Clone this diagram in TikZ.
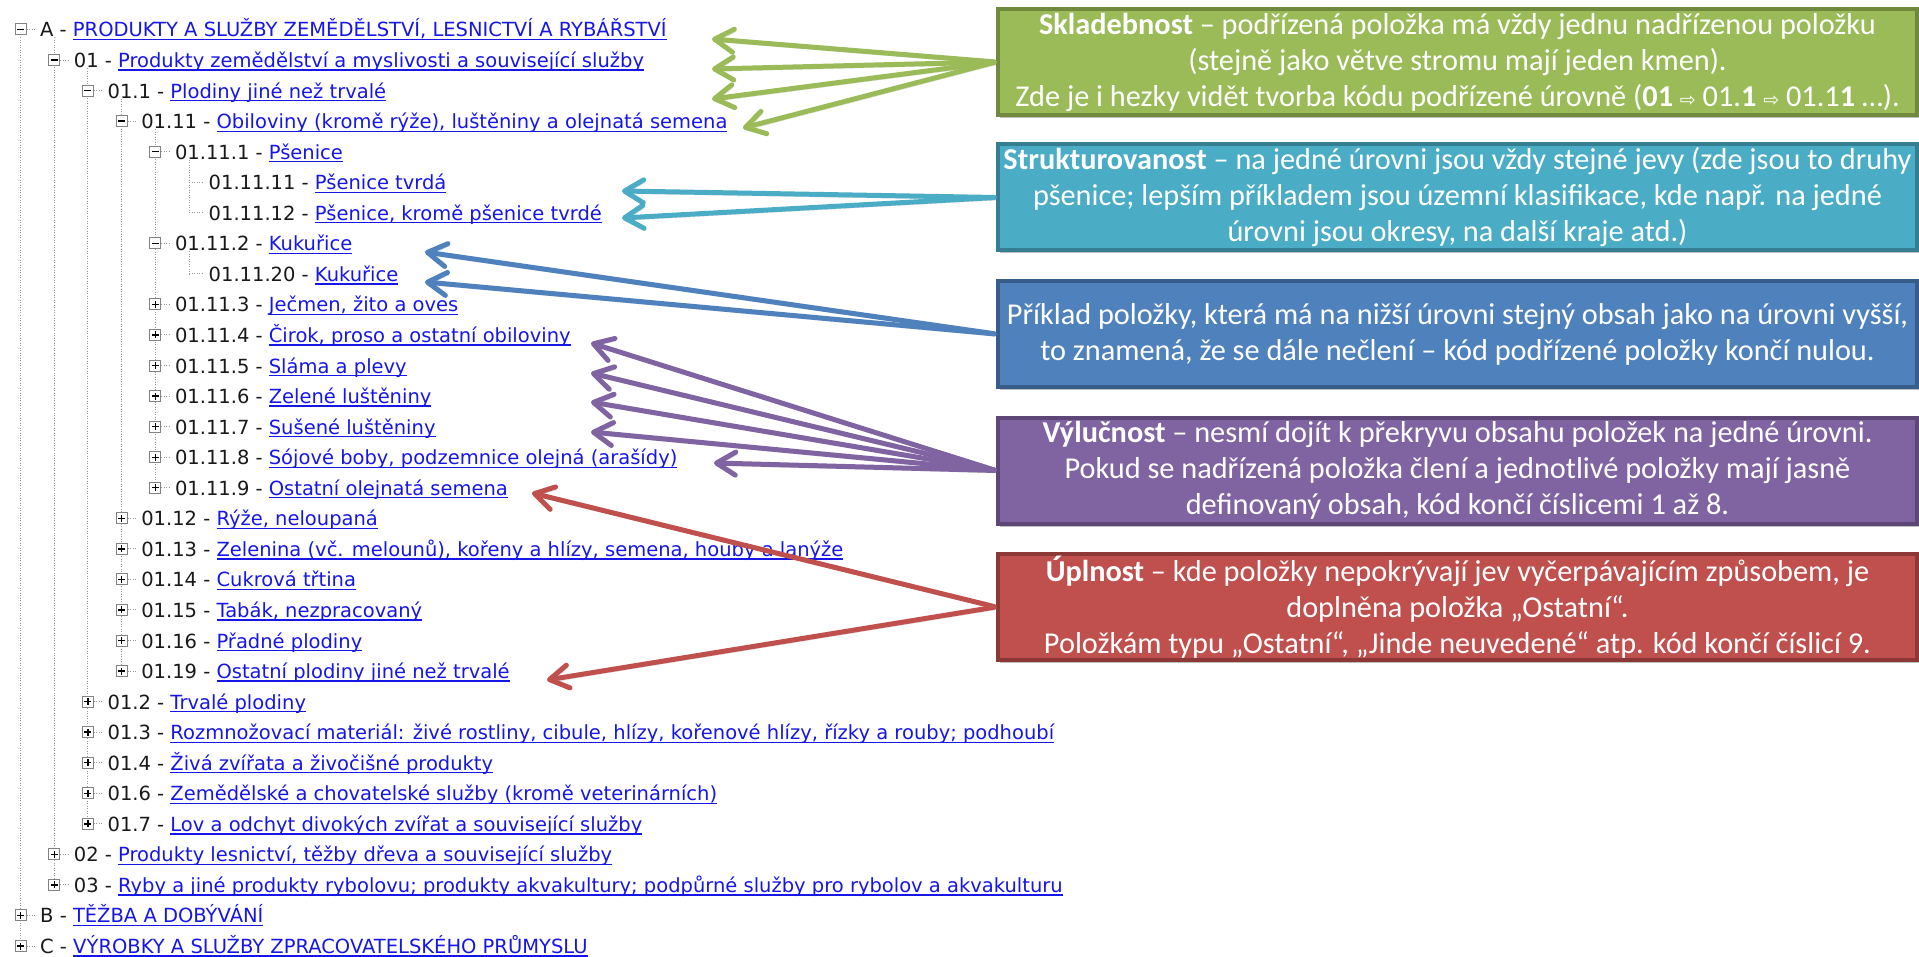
\documentclass[tikz,border=0pt]{standalone}
\usepackage{fontspec}
\usetikzlibrary{arrows.meta,shadows}
\newfontfamily\treefont{DejaVu Sans}
\newfontfamily\boxfont{Carlito}
\newfontfamily\arrfont{DejaVu Sans}
\definecolor{linkblue}{RGB}{22,22,232}
\definecolor{codegray}{RGB}{25,25,25}
\definecolor{dotgray}{RGB}{150,150,150}
\definecolor{boxgray}{RGB}{130,130,130}
\definecolor{cgreen}{HTML}{9BBB59}\definecolor{cgreenD}{HTML}{71893F}
\definecolor{cteal}{HTML}{4BACC6}\definecolor{ctealD}{HTML}{357D91}
\definecolor{cblue}{HTML}{4F81BD}\definecolor{cblueD}{HTML}{385D8A}
\definecolor{cpurple}{HTML}{8064A2}\definecolor{cpurpleD}{HTML}{5C4776}
\definecolor{cred}{HTML}{C0504D}\definecolor{credD}{HTML}{8C3836}
\newcommand\ulk[1]{{\color{linkblue}\setbox0\hbox{#1}\rlap{\rule[-3.2pt]{\wd0}{1.3pt}}\box0}}
\newcommand\rarr{{\arrfont\fontsize{19}{19}\selectfont ⇨}}
\tikzset{
  treetext/.style={font=\treefont\fontsize{19.5}{22}\selectfont, text=codegray, inner sep=0pt, anchor=base west},
  tbox/.style={draw=boxgray, fill=white, line width=1pt, minimum size=11pt, inner sep=0pt},
  tsym/.style={line width=1.4pt, black},
  tdot/.style={draw=dotgray, line width=1pt, dash pattern=on 1pt off 1.5pt},
  cbox/.style={line width=4pt, minimum width=919pt, minimum height=106pt, inner sep=0pt, align=center, text=white,
    font=\boxfont\fontsize{30.3}{36}\selectfont,
    drop shadow={shadow xshift=2pt, shadow yshift=-3pt, opacity=.25, fill=black}},
  carrow/.style={line width=5pt, line cap=round, shorten <=2pt,
    -{Straight Barb[length=19pt,width=23pt,line cap=round,line join=round]},
    preaction={draw=black, opacity=.15, transform canvas={shift={(1.5pt,-2.5pt)}}}}
}
\newcommand\treevl[3]{\draw[tdot] ({20.5+33.7*#1},{29.5+30.55*#2+8}) -- ({20.5+33.7*#1},{29.5+30.55*#3});}
\newcommand\trow[5]{%
  \pgfmathsetmacro\tcx{20.5+33.7*#2}%
  \pgfmathsetmacro\tcy{29.5+30.55*#1}%
  \ifnum#3>0
    \node[tbox] (b#1) at (\tcx,\tcy) {};
    \draw[tsym] ({\tcx-3.5},\tcy) -- ({\tcx+3.5},\tcy);
    \ifnum#3=2 \draw[tsym] (\tcx,{\tcy-3.5}) -- (\tcx,{\tcy+3.5});\fi
    \draw[tdot] (b#1.east) -- ++(8,0);
  \else
    \draw[tdot] (\tcx,\tcy) -- ({\tcx+15},\tcy);
  \fi
  \node[treetext] (r#1) at ({\tcx+19.5},{\tcy+7.5}) {#4 - \ulk{#5}};
}
\begin{document}
\begin{tikzpicture}[x=1pt,y=-1pt]
\fill[white] (0,0) rectangle (1919,957);
\useasboundingbox (0,0) rectangle (1919,957);
% tree guide lines
\treevl{0}{0}{30}
\treevl{1}{0}{28}
\treevl{2}{1}{26}
\treevl{3}{2}{21}
\treevl{4}{3}{15}
\treevl{5}{4}{6}
\treevl{5}{7}{8}
% tree rows
\trow{0}{0}{1}{A}{PRODUKTY A SLUŽBY ZEMĚDĚLSTVÍ, LESNICTVÍ A RYBÁŘSTVÍ}
\trow{1}{1}{1}{01}{Produkty zemědělství a myslivosti a související služby}
\trow{2}{2}{1}{01.1}{Plodiny jiné než trvalé}
\trow{3}{3}{1}{01.11}{Obiloviny (kromě rýže), luštěniny a olejnatá semena}
\trow{4}{4}{1}{01.11.1}{Pšenice}
\trow{5}{5}{0}{01.11.11}{Pšenice tvrdá}
\trow{6}{5}{0}{01.11.12}{Pšenice, kromě pšenice tvrdé}
\trow{7}{4}{1}{01.11.2}{Kukuřice}
\trow{8}{5}{0}{01.11.20}{Kukuřice}
\trow{9}{4}{2}{01.11.3}{Ječmen, žito a oves}
\trow{10}{4}{2}{01.11.4}{Čirok, proso a ostatní obiloviny}
\trow{11}{4}{2}{01.11.5}{Sláma a plevy}
\trow{12}{4}{2}{01.11.6}{Zelené luštěniny}
\trow{13}{4}{2}{01.11.7}{Sušené luštěniny}
\trow{14}{4}{2}{01.11.8}{Sójové boby, podzemnice olejná (arašídy)}
\trow{15}{4}{2}{01.11.9}{Ostatní olejnatá semena}
\trow{16}{3}{2}{01.12}{Rýže, neloupaná}
\trow{17}{3}{2}{01.13}{Zelenina (vč. melounů), kořeny a hlízy, semena, houby a lanýže}
\trow{18}{3}{2}{01.14}{Cukrová třtina}
\trow{19}{3}{2}{01.15}{Tabák, nezpracovaný}
\trow{20}{3}{2}{01.16}{Přadné plodiny}
\trow{21}{3}{2}{01.19}{Ostatní plodiny jiné než trvalé}
\trow{22}{2}{2}{01.2}{Trvalé plodiny}
\trow{23}{2}{2}{01.3}{Rozmnožovací materiál: živé rostliny, cibule, hlízy, kořenové hlízy, řízky a rouby; podhoubí}
\trow{24}{2}{2}{01.4}{Živá zvířata a živočišné produkty}
\trow{25}{2}{2}{01.6}{Zemědělské a chovatelské služby (kromě veterinárních)}
\trow{26}{2}{2}{01.7}{Lov a odchyt divokých zvířat a související služby}
\trow{27}{1}{2}{02}{Produkty lesnictví, těžby dřeva a související služby}
\trow{28}{1}{2}{03}{Ryby a jiné produkty rybolovu; produkty akvakultury; podpůrné služby pro rybolov a akvakulturu}
\trow{29}{0}{2}{B}{TĚŽBA A DOBÝVÁNÍ}
\trow{30}{0}{2}{C}{VÝROBKY A SLUŽBY ZPRACOVATELSKÉHO PRŮMYSLU}
% callout boxes
\node[cbox, fill=cgreen, draw=cgreenD] (sklad) at (1457.5,62)
  {\textbf{Skladebnost} – podřízená položka má vždy jednu nadřízenou položku\\(stejně jako větve stromu mají jeden kmen).\\Zde je i hezky vidět tvorba kódu podřízené úrovně (\textbf{01} \rarr{} 01.\textbf{1} \rarr{} 01.1\textbf{1} …).};
\node[cbox, fill=cteal, draw=ctealD] (strukt) at (1457.5,197.5)
  {\textbf{Strukturovanost} – na jedné úrovni jsou vždy stejné jevy (zde jsou to druhy\\pšenice; lepším příkladem jsou územní klasifikace, kde např. na jedné\\úrovni jsou okresy, na další kraje atd.)};
\node[cbox, fill=cblue, draw=cblueD] (priklad) at (1457.5,334)
  {Příklad položky, která má na nižší úrovni stejný obsah jako na úrovni vyšší,\\to znamená, že se dále nečlení – kód podřízené položky končí nulou.};
\node[cbox, fill=cpurple, draw=cpurpleD] (vyluc) at (1457.5,470.5)
  {\textbf{Výlučnost} – nesmí dojít k překryvu obsahu položek na jedné úrovni.\\Pokud se nadřízená položka člení a jednotlivé položky mají jasně\\definovaný obsah, kód končí číslicemi 1 až 8.};
\node[cbox, fill=cred, draw=credD] (upln) at (1457.5,607)
  {\textbf{Úplnost} – kde položky nepokrývají jev vyčerpávajícím způsobem, je\\doplněna položka „Ostatní“.\\Položkám typu „Ostatní“, „Jinde neuvedené“ atp. kód končí číslicí 9.};
% arrow targets
\coordinate (g0) at (712,39);  \coordinate (g1) at (712,69);
\coordinate (g2) at (712,99);  \coordinate (g3) at (743,128);
\coordinate (t0) at (622,191); \coordinate (t1) at (622,218);
\coordinate (k0) at (425,252); \coordinate (k1) at (425,282);
\coordinate (p0) at (591,343); \coordinate (p1) at (591,373);
\coordinate (p2) at (591,402); \coordinate (p3) at (591,432);
\coordinate (p4) at (714,463);
\coordinate (u0) at (532,493); \coordinate (u1) at (547,680);
% arrows
\foreach \t in {g0,g1,g2,g3} \draw[carrow, cgreen] (sklad.west) -- (\t);
\foreach \t in {t0,t1} \draw[carrow, cteal] (strukt.west) -- (\t);
\foreach \t in {k0,k1} \draw[carrow, cblue] (priklad.west) -- (\t);
\foreach \t in {p0,p1,p2,p3,p4} \draw[carrow, cpurple] (vyluc.west) -- (\t);
\foreach \t in {u0,u1} \draw[carrow, cred] (upln.west) -- (\t);
\end{tikzpicture}
\end{document}
